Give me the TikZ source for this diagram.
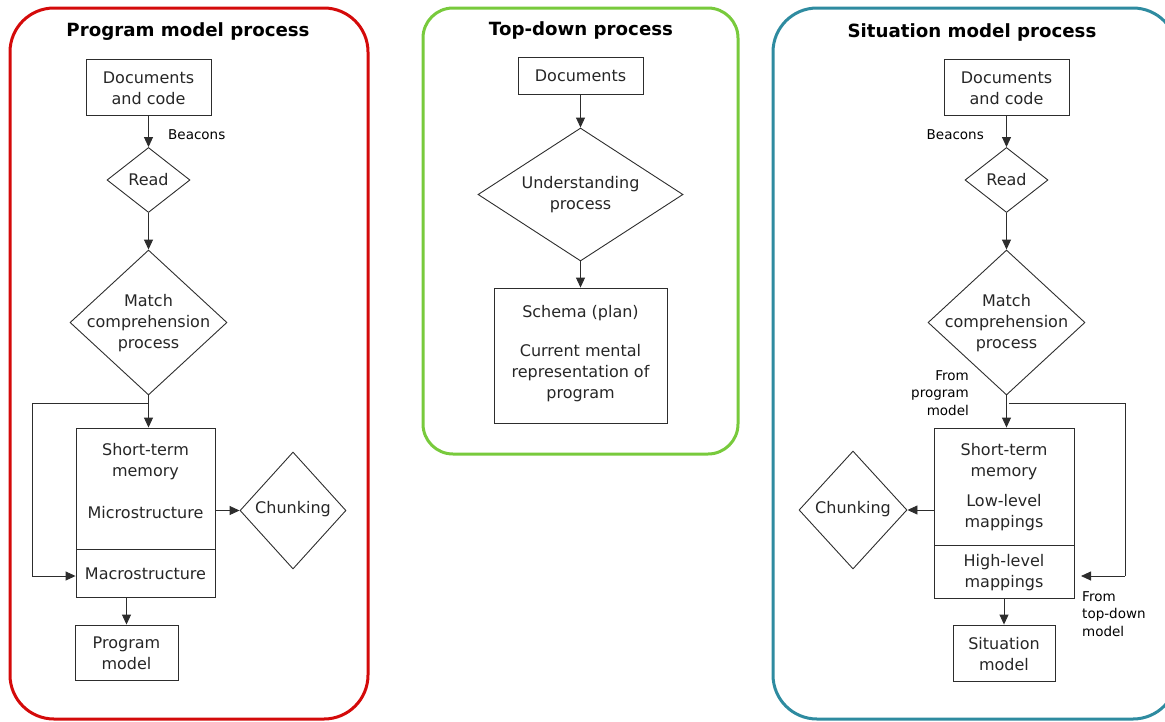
\documentclass[tikz,border=0pt]{standalone}
\usepackage{fontspec}
\setmainfont{DejaVu Sans}
\usetikzlibrary{shapes.geometric,arrows.meta}
\definecolor{pmred}{RGB}{212,10,10}
\definecolor{tdgreen}{RGB}{120,202,60}
\definecolor{smteal}{RGB}{46,139,160}
\definecolor{ink}{RGB}{45,45,45}
\tikzset{
  panel/.style={line width=3pt, rounded corners=44pt},
  title/.style={font=\fontsize{18.2}{22}\selectfont\bfseries},
  box/.style={draw=ink, line width=0.9pt, align=center, inner sep=0pt,
    font=\fontsize{16}{21}\selectfont},
  decision/.style={draw=ink, line width=0.9pt, diamond, align=center, inner sep=0pt,
    font=\fontsize{16}{21}\selectfont},
  lbl/.style={font=\fontsize{13.5}{17.5}\selectfont, inner sep=0pt},
  txt/.style={font=\fontsize{16}{21}\selectfont, inner sep=0pt, align=center, text=black!85},
  flow/.style={draw=ink, line width=0.9pt, -{Triangle[length=10pt,width=9pt]}},
  wire/.style={draw=ink, line width=0.9pt},
}
\begin{document}
\begin{tikzpicture}[x=1pt,y=-1pt]
\useasboundingbox (0,0) rectangle (1165,721);
\begin{scope}
\clip (0,0) rectangle (1165,721);
% panel frames
\draw[panel, pmred] (10,8) rectangle (368,719);
\draw[panel, tdgreen, rounded corners=30pt] (423,8) rectangle (738,454);
\draw[panel, smteal] (773,8) rectangle (1177,719);
\end{scope}

% ---------- program model process ----------
\node[title] (pmT) at (188,32) {Program model process};
\node[box, minimum width=125pt, minimum height=56pt] (pmDoc) at (148.5,87) {};
\node[txt] at (148.5,88) {Documents\\and code};
\node[decision, minimum width=83pt, minimum height=65pt] (pmRead) at (148.5,180) {};
\node[txt] at (pmRead) {Read};
\node[decision, minimum width=157pt, minimum height=145pt] (pmMatch) at (148.5,322.5) {};
\node[txt] at (148.5,323) {Match\\comprehension\\process};
\node[lbl, anchor=west] (pmBeac) at (168,135) {Beacons};
\node[draw=ink, line width=0.9pt, minimum width=139pt, minimum height=169pt, inner sep=0pt] (pmStm) at (145.5,512.5) {};
\draw[wire] (76,549) -- (215,549);
\node[txt] (pmStmT) at (145.5,462) {Short-term\\memory};
\node[txt] (pmMicro) at (145.5,512.5) {Microstructure};
\node[txt] (pmMacro) at (145.5,573.5) {Macrostructure};
\node[decision, minimum width=106pt, minimum height=117pt] (pmChunk) at (293,510.5) {};
\node[txt] at (293,509.5) {Chunking};
\node[box, minimum width=103pt, minimum height=55pt] (pmProg) at (126.5,652.5) {};
\node[txt] at (126.5,653) {Program\\model};
\coordinate (pmJ) at (148.5,403);
\coordinate (pmL1) at (32,403);
\coordinate (pmL2) at (32,576);

\draw[flow] (pmDoc.south) -- (pmRead.north);
\draw[flow] (pmRead.south) -- (pmMatch.north);
\draw[flow] (pmMatch.south) -- (pmStm.north -| pmJ);
\draw[wire] (pmJ) -- (pmL1) -- (pmL2);
\draw[flow] (pmL2) -- (pmL2 -| pmStm.west);
\draw[flow] (pmStm.east |- pmChunk.west) -- (pmChunk.west);
\draw[flow] (pmStm.south -| pmProg.north) -- (pmProg.north);

% ---------- top-down process ----------
\node[title] (tdT) at (581,30) {Top-down process};
\node[box, minimum width=125pt, minimum height=37pt] (tdDoc) at (580.5,75.5) {};
\node[txt] at (580.5,75.5) {Documents};
\node[decision, minimum width=205pt, minimum height=133pt] (tdUnd) at (580.5,194.5) {};
\node[txt] at (580.5,195) {Understanding\\process};
\node[box, minimum width=173pt, minimum height=135pt] (tdSch) at (580.5,355.5) {};
\node[txt] at (580.5,313) {Schema (plan)};
\node[txt] at (580.5,373.5) {Current mental\\representation of\\program};
\draw[flow] (tdDoc.south) -- (tdUnd.north);
\draw[flow] (tdUnd.south) -- (tdSch.north);

% ---------- situation model process ----------
\node[title] (smT) at (972,32) {Situation model process};
\node[box, minimum width=125pt, minimum height=56pt] (smDoc) at (1006.5,87) {};
\node[txt] at (1006.5,88) {Documents\\and code};
\node[decision, minimum width=83pt, minimum height=65pt] (smRead) at (1006.5,180) {};
\node[txt] at (smRead) {Read};
\node[decision, minimum width=157pt, minimum height=145pt] (smMatch) at (1006.5,322.5) {};
\node[txt] at (1006.5,323) {Match\\comprehension\\process};
\node[lbl, anchor=east] (smBeac) at (984,135) {Beacons};
\node[lbl, anchor=east, align=right] (smFromP) at (969,393) {From\\program\\model};
\node[draw=ink, line width=0.9pt, minimum width=140pt, minimum height=170pt, inner sep=0pt] (smStm) at (1004,513) {};
\draw[wire] (934,545) -- (1074,545);
\node[txt] at (1004,462) {Short-term\\memory};
\node[txt] at (1004,513) {Low-level\\mappings};
\node[txt] at (1004,573) {High-level\\mappings};
\node[decision, minimum width=108pt, minimum height=118pt] (smChunk) at (853,510) {};
\node[txt] at (853,509.5) {Chunking};
\node[box, minimum width=102pt, minimum height=56pt] (smSit) at (1004,653) {};
\node[txt] at (1004,654) {Situation\\model};
\node[lbl, anchor=west, align=left] (smFromT) at (1082,614) {From\\top-down\\model};
\coordinate (smJ) at (1009,403);
\coordinate (smR1) at (1125,403);
\coordinate (smR2) at (1125,576);
\coordinate (smTip) at (1081,576);

\draw[flow] (smDoc.south) -- (smRead.north);
\draw[flow] (smRead.south) -- (smMatch.north);
\draw[flow] (smMatch.south) -- (smStm.north -| smMatch.south);
\draw[wire] (smJ) -- (smR1) -- (smR2);
\draw[flow] (smR2) -- (smTip);
\draw[flow] (smStm.west |- smChunk.east) -- (smChunk.east);
\draw[flow] (smStm.south -| smSit.north) -- (smSit.north);
\end{tikzpicture}
\end{document}
